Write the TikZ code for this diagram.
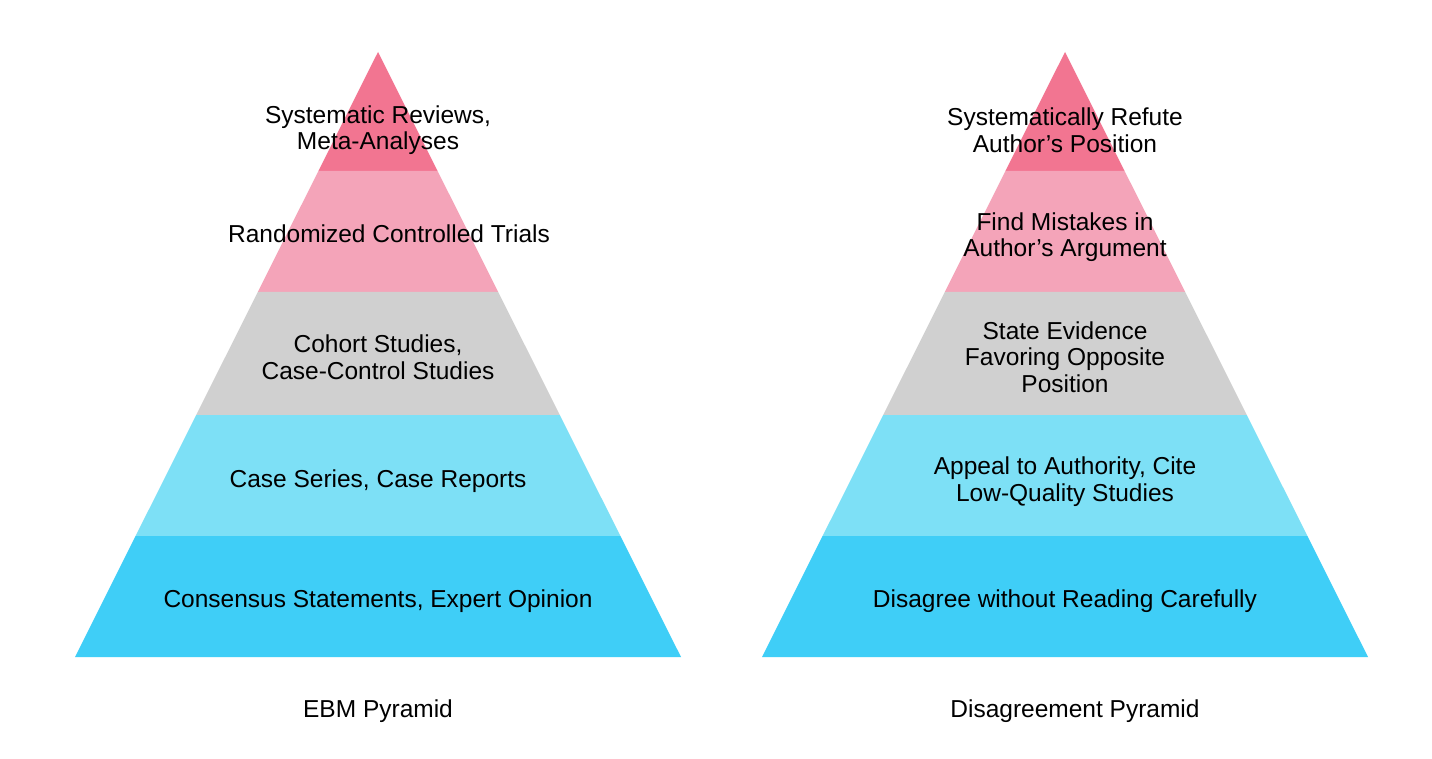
\documentclass[tikz,border=0pt]{standalone}
\usepackage{fontspec}
\setmainfont{Liberation Sans}
\definecolor{lay1}{HTML}{F27591}
\definecolor{lay2}{HTML}{F4A4B9}
\definecolor{lay3}{HTML}{D0D0D0}
\definecolor{lay4}{HTML}{7DE0F6}
\definecolor{lay5}{HTML}{3FCEF7}
\begin{document}
\begin{tikzpicture}[x=1pt,y=-1pt,
  lbl/.style={align=center,text=black,inner sep=0pt,font=\fontsize{24.5}{26.5}\selectfont}]
\useasboundingbox[fill=white] (0,0) rectangle (1432,759);
\foreach \cx in {378,1065}{
  \fill[lay1] (\cx,52) -- (\cx+59.6,171) -- (\cx-59.6,171) -- cycle;
  \fill[lay2] (\cx-59.6,171) -- (\cx+59.6,171) -- (\cx+120.2,292) -- (\cx-120.2,292) -- cycle;
  \fill[lay3] (\cx-120.2,292) -- (\cx+120.2,292) -- (\cx+181.8,415) -- (\cx-181.8,415) -- cycle;
  \fill[lay4] (\cx-181.8,415) -- (\cx+181.8,415) -- (\cx+242.4,536) -- (\cx-242.4,536) -- cycle;
  \fill[lay5] (\cx-242.4,536) -- (\cx+242.4,536) -- (\cx+303,657) -- (\cx-303,657) -- cycle;
}
% left pyramid
\node[lbl] (l1) at (378,130) {Systematic Reviews,\\Meta-Analyses};
\node[lbl] (l2) at (389,234) {Randomized Controlled Trials};
\node[lbl] (l3) at (378,357) {Cohort Studies,\\Case-Control Studies};
\node[lbl] (l4) at (378,481) {Case Series, Case Reports};
\node[lbl] (l5) at (378,601) {Consensus Statements, Expert Opinion};
\node[lbl] (lt) at (378,711) {EBM Pyramid};
% right pyramid
\node[lbl] (r1) at (1065,130) {Systematically Refute\\Author’s Position};
\node[lbl] (r2) at (1065,237) {Find Mistakes in\\Author’s Argument};
\node[lbl] (r3) at (1065,357) {State Evidence\\Favoring Opposite\\Position};
\node[lbl] (r4) at (1065,481.5) {Appeal to Authority, Cite\\Low-Quality Studies};
\node[lbl] (r5) at (1065,601) {Disagree without Reading Carefully};
\node[lbl] (rt) at (1075,711) {Disagreement Pyramid};
\end{tikzpicture}
\end{document}
